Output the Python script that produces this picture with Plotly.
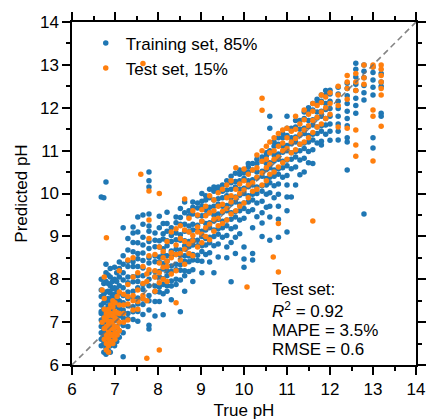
import plotly.graph_objects as go

# True pH of each measurement column and the model's predictions in that column
train_cols = [6.68, 6.74, 6.79, 6.84, 6.89, 6.94, 6.99, 7.04, 7.10, 7.19,
              7.30, 7.42, 7.53, 7.65, 7.79, 7.93, 8.03, 8.12, 8.21, 8.31,
              8.42, 8.52, 8.62, 8.72, 8.81, 8.92, 9.02, 9.11, 9.20, 9.30,
              9.40, 9.50, 9.60, 9.70, 9.80, 9.90, 10.00, 10.10, 10.20, 10.30,
              10.42, 10.52, 10.60, 10.70, 10.80, 10.90, 11.00, 11.10, 11.20, 11.30,
              11.40, 11.50, 11.60, 11.70, 11.80, 11.90, 12.00, 12.19, 12.40, 12.60,
              12.79, 13.00, 13.19]
train_pred = [
    [6.45, 6.6, 6.75, 6.9, 7.05, 7.2, 7.25, 7.4, 7.6, 7.75, 8.0, 9.92],
    [6.3, 6.5, 6.65, 6.8, 6.95, 7.1, 7.3, 7.45, 7.65, 7.9, 9.9],
    [6.25, 6.4, 6.55, 6.7, 6.85, 7.0, 7.15, 7.3, 7.5, 7.7, 7.95, 8.15, 8.35, 10.27],
    [6.35, 6.5, 6.62, 6.78, 6.92, 7.08, 7.22, 7.38, 7.55, 7.72, 7.9, 8.1],
    [6.3, 6.45, 6.6, 6.75, 6.9, 7.05, 7.2, 7.35, 7.5, 7.68, 7.85, 8.05, 8.25],
    [6.5, 6.65, 6.8, 6.95, 7.1, 7.25, 7.42, 7.6, 7.78, 7.95],
    [6.45, 6.6, 6.75, 6.9, 7.05, 7.2, 7.35, 7.5, 7.65, 7.8, 8.0, 8.28],
    [6.55, 6.7, 6.88, 7.05, 7.22, 7.4, 7.58, 7.75, 7.95, 8.15],
    [6.65, 6.8, 6.98, 7.15, 7.32, 7.5, 7.68, 7.85, 8.05, 8.25, 8.4],
    [6.19, 6.75, 6.92, 7.1, 7.28, 7.45, 7.62, 7.8, 7.98, 8.15, 8.35, 8.55, 9.2],
    [6.9, 7.08, 7.2, 7.38, 7.55, 7.7, 7.92, 8.05, 8.3, 8.42, 8.68, 8.95],
    [7.06, 7.24, 7.36, 7.58, 7.72, 7.94, 8.06, 8.3, 8.41, 8.64, 8.86, 9.08, 9.22],
    [7.02, 7.25, 7.42, 7.56, 7.8, 7.95, 8.08, 8.3, 8.48, 8.6, 8.85, 9.1, 9.45],
    [7.18, 7.41, 7.54, 7.76, 7.88, 8.08, 8.26, 8.44, 8.61, 8.8, 8.98, 9.28, 9.5],
    [6.84, 6.93, 7.28, 7.5, 7.62, 7.85, 8.0, 8.15, 8.38, 8.5, 8.72, 8.88, 9.12,
     9.24, 9.52, 10.15, 10.3, 10.5],
    [7.14, 7.48, 7.71, 7.84, 8.06, 8.18, 8.41, 8.54, 8.76, 8.91, 9.08],
    [7.48, 7.7, 7.82, 8.05, 8.18, 8.4, 8.52, 8.75, 8.9, 9.2, 9.47],
    [7.17, 7.66, 7.88, 8.01, 8.24, 8.36, 8.58, 8.71, 8.94, 9.06, 9.3],
    [7.72, 7.85, 8.08, 8.2, 8.42, 8.55, 8.78, 8.9, 9.12, 9.3, 9.56],
    [7.52, 7.84, 7.96, 8.18, 8.31, 8.54, 8.66, 8.88, 9.02, 9.2],
    [7.88, 8.0, 8.22, 8.35, 8.58, 8.7, 8.92, 9.08, 9.32, 9.45],
    [7.24, 7.98, 8.21, 8.34, 8.56, 8.68, 8.91, 9.04, 9.28, 9.44, 9.65],
    [7.72, 8.08, 8.2, 8.42, 8.55, 8.78, 8.9, 9.12, 9.28, 9.55, 9.8],
    [8.18, 8.41, 8.54, 8.76, 8.88, 9.11, 9.24, 9.48, 9.6],
    [7.95, 8.22, 8.45, 8.58, 8.8, 8.92, 9.15, 9.28, 9.52, 9.68, 9.8],
    [8.44, 8.56, 8.78, 8.91, 9.14, 9.26, 9.48, 9.66, 9.78],
    [8.15, 8.42, 8.65, 8.78, 9.0, 9.12, 9.35, 9.48, 9.7, 9.82, 10.0],
    [8.58, 8.8, 8.95, 9.15, 9.3, 9.5, 9.62, 9.85, 9.95],
    [8.4, 8.62, 8.85, 8.98, 9.2, 9.32, 9.55, 9.68, 9.9, 10.1],
    [8.15, 8.78, 9.0, 9.15, 9.36, 9.5, 9.7, 9.85, 10.05, 10.15],
    [8.52, 8.82, 9.05, 9.18, 9.4, 9.52, 9.75, 9.88, 10.1, 10.15],
    [8.98, 9.2, 9.35, 9.56, 9.7, 9.9, 10.05, 10.2],
    [8.5, 8.75, 9.02, 9.25, 9.38, 9.6, 9.72, 9.95, 10.08, 10.3],
    [7.94, 8.86, 9.18, 9.4, 9.55, 9.76, 9.9, 10.1, 10.25, 10.4],
    [8.6, 8.98, 9.22, 9.45, 9.58, 9.8, 9.92, 10.15, 10.28, 10.47],
    [9.06, 9.38, 9.6, 9.75, 9.96, 10.1, 10.3, 10.45, 10.55],
    [8.28, 8.47, 8.75, 9.42, 9.65, 9.78, 10.0, 10.12, 10.35, 10.48, 10.55],
    [9.58, 9.8, 9.95, 10.16, 10.3, 10.5, 10.62, 10.7],
    [8.45, 8.6, 9.2, 9.62, 9.85, 9.98, 10.2, 10.32, 10.55, 10.7],
    [9.46, 9.78, 10.0, 10.15, 10.36, 10.5, 10.7, 10.8],
    [9.0, 9.31, 9.55, 9.82, 10.05, 10.18, 10.4, 10.52, 10.75, 10.85],
    [9.68, 9.98, 10.2, 10.35, 10.56, 10.7, 10.88, 10.95],
    [8.91, 9.45, 9.7, 10.02, 10.25, 10.38, 10.6, 10.72, 10.95, 11.0, 11.52, 11.8],
    [9.9, 10.18, 10.4, 10.55, 10.76, 10.9, 11.1, 11.2],
    [8.98, 9.4, 9.7, 9.98, 10.22, 10.45, 10.58, 10.8, 10.92, 11.15, 11.3],
    [10.38, 10.6, 10.75, 10.96, 11.1, 11.3, 11.4],
    [9.1, 9.6, 9.92, 10.2, 10.42, 10.65, 10.78, 11.0, 11.12, 11.35, 11.52, 11.8],
    [9.92, 10.58, 10.8, 10.95, 11.16, 11.3, 11.48, 11.52],
    [10.2, 10.62, 10.85, 10.98, 11.2, 11.32, 11.55, 11.7],
    [10.44, 10.78, 11.0, 11.15, 11.36, 11.5, 11.7],
    [10.5, 10.82, 11.05, 11.18, 11.4, 11.52, 11.75, 11.9],
    [10.72, 10.98, 11.2, 11.35, 11.56, 11.7, 11.9, 12.0],
    [10.7, 11.02, 11.25, 11.38, 11.6, 11.72, 11.95, 12.1],
    [11.18, 11.4, 11.55, 11.76, 11.9, 12.1, 12.2],
    [11.13, 11.22, 11.45, 11.58, 11.8, 11.92, 12.15, 12.3],
    [11.38, 11.6, 11.75, 11.96, 12.1, 12.3, 12.4],
    [11.24, 11.45, 11.62, 11.8, 11.98, 12.15, 12.32, 12.41],
    [11.25, 11.45, 11.62, 11.8, 11.98, 12.15, 12.32, 12.48],
    [10.55, 11.2, 11.3, 11.58, 11.75, 11.92, 12.1, 12.28, 12.45, 12.57],
    [11.87, 12.05, 12.22, 12.4, 12.55, 12.72, 12.9, 13.04],
    [9.52, 12.18, 12.35, 12.52, 12.7, 12.85, 13.0],
    [11.06, 11.3, 12.3, 12.48, 12.65, 12.82, 12.95],
    [11.8, 11.87, 12.5, 12.6, 12.8],
]

test_cols = [6.70, 6.75, 6.80, 6.85, 6.90, 6.95, 7.00, 7.05, 7.10, 7.20,
             7.30, 7.42, 7.53, 7.60, 7.65, 7.74, 7.79, 7.93, 8.03, 8.12,
             8.21, 8.31, 8.42, 8.52, 8.62, 8.72, 8.81, 8.92, 9.02, 9.11,
             9.20, 9.30, 9.40, 9.50, 9.60, 9.70, 9.81, 9.90, 10.00, 10.07,
             10.10, 10.20, 10.30, 10.42, 10.52, 10.60, 10.68, 10.70, 10.80, 10.90,
             11.00, 11.10, 11.20, 11.30, 11.40, 11.50, 11.60, 11.70, 11.80, 11.90,
             12.00, 12.19, 12.40, 12.60, 12.79, 13.00, 13.19]
test_pred = [
    [7.0, 7.75],
    [6.6, 6.85, 7.1, 7.3, 7.55, 8.05],
    [6.35, 6.5, 6.7, 6.9, 7.05, 7.2, 8.97],
    [6.3, 6.45, 6.62, 6.8, 6.95, 7.15, 7.3],
    [6.55, 6.72, 6.88, 7.02, 7.2, 7.4],
    [6.5, 6.68, 6.85, 7.0, 7.15, 7.35, 7.5],
    [6.6, 6.75, 6.9, 7.1, 7.25, 7.45],
    [6.7, 6.88, 7.05, 7.22, 7.6],
    [6.8, 7.0, 7.2, 7.4, 7.7, 8.2],
    [7.0, 7.2, 7.4, 7.65],
    [7.05, 7.42, 7.6, 7.88, 8.45],
    [7.28, 7.5, 7.62, 8.05, 8.5],
    [7.3, 7.48, 7.75, 8.15],
    [10.45],
    [7.55, 7.62, 7.9, 8.3, 13.03],
    [6.16, 7.5, 7.95, 8.12],
    [8.22, 8.55, 8.95, 9.38, 10.06],
    [7.72, 8.05, 8.2, 8.58],
    [6.35, 7.92, 8.15, 8.38, 8.75, 10.0],
    [8.0, 8.28, 8.5, 8.65],
    [7.95, 8.3, 8.42, 8.88],
    [8.12, 8.5, 8.62, 9.1],
    [7.45, 8.2, 8.58, 8.8, 9.18],
    [8.45, 8.6, 8.95, 9.25],
    [8.35, 8.7, 8.88, 9.15, 9.87],
    [8.6, 8.82, 9.1, 9.42],
    [8.55, 8.9, 9.02, 9.6],
    [8.75, 9.1, 9.22, 9.5],
    [8.85, 9.05, 9.35, 9.62],
    [9.0, 9.2, 9.48, 9.7],
    [8.92, 9.28, 9.55, 9.95],
    [9.12, 9.4, 9.6, 9.85],
    [9.25, 9.42, 9.7, 10.02],
    [9.3, 9.58, 9.75, 10.1],
    [9.38, 9.65, 9.9, 10.2],
    [9.52, 9.8, 9.95, 10.3],
    [9.6, 9.9, 10.1, 10.6],
    [9.7, 10.0, 10.22],
    [9.78, 10.08, 10.3, 10.57],
    [7.82],
    [9.9, 10.2, 10.45],
    [10.05, 10.25, 10.55],
    [10.1, 10.38, 10.6, 10.9],
    [10.2, 10.48, 10.75, 11.0, 11.94, 12.22],
    [10.3, 10.6, 10.8, 11.1],
    [10.45, 10.68, 10.95, 11.2],
    [8.52],
    [10.5, 10.8, 11.0, 11.3],
    [8.17, 9.3, 10.62, 10.85, 11.1, 11.4],
    [10.72, 11.0, 11.18, 11.48],
    [10.8, 11.05, 11.3, 11.52],
    [10.95, 11.2, 11.45],
    [11.02, 11.28, 11.5, 11.8],
    [11.15, 11.38, 11.62],
    [11.2, 11.48, 11.72, 11.95],
    [11.3, 11.58, 11.85],
    [9.36, 11.42, 11.7, 11.92, 12.1],
    [11.55, 11.78, 12.05],
    [11.62, 11.9, 12.12, 12.3],
    [11.75, 12.0, 12.25],
    [11.85, 12.1, 12.35],
    [11.55, 12.05, 12.3, 12.5],
    [11.52, 12.2, 12.45, 12.6, 12.75],
    [10.87, 11.13, 11.48, 12.4, 12.6, 12.8],
    [12.55, 12.7, 13.0],
    [10.76, 11.8, 11.95, 12.95, 13.0],
    [11.57, 12.3, 12.45, 12.6, 12.75, 12.9, 13.0],
]

legend_names = ["Training set, 85%", "Test set, 15%"]
stats_lines = ["Test set:", "<i>R</i><sup>2</sup> = 0.92", "MAPE = 3.5%", "RMSE = 0.6"]
axis_range = [6, 14]


def expand(cols, preds):
    xs, ys = [], []
    for x, col in zip(cols, preds):
        for y in col:
            xs.append(x)
            ys.append(y)
    return xs, ys


tr_x, tr_y = expand(train_cols, train_pred)
te_x, te_y = expand(test_cols, test_pred)

FONT = "Arial, Liberation Sans, sans-serif"
BLUE = "#1f77b4"
ORANGE = "#ff7f0e"

fig = go.Figure()
fig.add_trace(go.Scatter(x=tr_x, y=tr_y, mode="markers", name=legend_names[0],
                         marker=dict(color=BLUE, size=5.5, line=dict(width=0))))
fig.add_trace(go.Scatter(x=te_x, y=te_y, mode="markers", name=legend_names[1],
                         marker=dict(color=ORANGE, size=5.5, line=dict(width=0))))
# y = x reference line
fig.add_trace(go.Scatter(x=axis_range, y=axis_range, mode="lines", showlegend=False,
                         line=dict(color="rgba(110,110,110,0.85)", width=1.6, dash="6px,4px"),
                         hoverinfo="skip"))

axis_common = dict(
    range=axis_range, dtick=1, tick0=6, automargin=False,
    showgrid=False, zeroline=False,
    showline=True, linecolor="black", linewidth=1.5, mirror="allticks",
    ticks="outside", ticklen=8, tickwidth=1.5, tickcolor="black",
    minor=dict(ticks="outside", dtick=0.5, ticklen=4.5, tickwidth=1.5, tickcolor="black"),
    tickfont=dict(family=FONT, size=17, color="black"),
)

fig.update_xaxes(**axis_common,
                 title=dict(text="True pH", font=dict(family=FONT, size=17, color="black"), standoff=6))
fig.update_yaxes(**axis_common,
                 title=dict(text="Predicted pH", font=dict(family=FONT, size=17, color="black"), standoff=8))

# metrics block, one line per annotation for tighter line spacing
line_y = [0.219, 0.160, 0.102, 0.044]
for text, yy in zip(stats_lines, line_y):
    fig.add_annotation(x=0.575, y=yy, xref="paper", yref="paper",
                       xanchor="left", yanchor="middle", align="left", showarrow=False,
                       text=text, font=dict(family=FONT, size=17, color="black"))

fig.update_layout(
    width=432, height=420,
    margin=dict(l=72, r=16, t=22, b=55),
    paper_bgcolor="white", plot_bgcolor="white",
    showlegend=True,
    legend=dict(x=0.04, y=0.99, xanchor="left", yanchor="top",
                bgcolor="rgba(0,0,0,0)", borderwidth=0,
                font=dict(family=FONT, size=17, color="black"),
                itemsizing="trace", tracegroupgap=0),
)

fig.write_html("out.html")
